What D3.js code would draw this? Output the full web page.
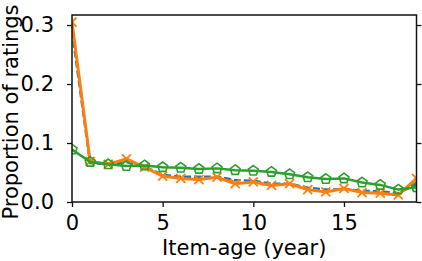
<!DOCTYPE html>
<html lang="en">
<head>
    <meta charset="UTF-8">
    <title>Proportion of ratings by item age</title>
    <script src="https://d3js.org/d3.v7.min.js"></script>
    <style>
        body { margin: 0; background: #fff; }
        text { font-family: "DejaVu Sans", sans-serif; }
    </style>
</head>
<body>
    <svg width="422" height="261"></svg>

    <script>
        // Data
        const ages = d3.range(20);
        const blueVals = [0.290, 0.066, 0.064, 0.068, 0.060, 0.046, 0.043, 0.043, 0.043, 0.037,
                          0.036, 0.031, 0.031, 0.024, 0.021, 0.022, 0.019, 0.018, 0.015, 0.030];
        const orangeVals = [0.305, 0.069, 0.064, 0.073, 0.059, 0.044, 0.040, 0.038, 0.042, 0.031,
                            0.034, 0.028, 0.031, 0.021, 0.017, 0.023, 0.016, 0.015, 0.012, 0.040];
        const greenVals = [0.089, 0.068, 0.064, 0.061, 0.062, 0.059, 0.058, 0.056, 0.057, 0.054,
                           0.053, 0.051, 0.047, 0.042, 0.039, 0.040, 0.033, 0.029, 0.021, 0.025];
        const xTicks = [0, 5, 10, 15];
        const yTicks = [0.0, 0.1, 0.2, 0.3];

        const width = 422, height = 261;
        const margin = {top: 15, right: 5.5, bottom: 59, left: 72};
        const plotWidth = width - margin.left - margin.right;
        const plotHeight = height - margin.top - margin.bottom;
        const fontSize = 21;

        const svg = d3.select("svg");
        const g = svg.append("g")
            .attr("transform", `translate(${margin.left},${margin.top})`);

        const xScale = d3.scaleLinear().domain([0, 19]).range([0, plotWidth]);
        const yScale = d3.scaleLinear().domain([0, 0.317]).range([plotHeight, 0]);

        g.append("clipPath").attr("id", "plot-clip")
            .append("rect").attr("width", plotWidth).attr("height", plotHeight);

        const line = d3.line()
            .x((d, i) => xScale(ages[i]))
            .y(d => yScale(d));

        const plot = g.append("g").attr("clip-path", "url(#plot-clip)");

        // blue dashed series underneath
        plot.append("path")
            .datum(blueVals)
            .attr("d", line)
            .attr("fill", "none")
            .attr("stroke", "#1f77b4")
            .attr("stroke-width", 2.5)
            .attr("stroke-dasharray", "7,3");

        // orange series with x markers
        plot.append("path")
            .datum(orangeVals)
            .attr("d", line)
            .attr("fill", "none")
            .attr("stroke", "#ff7f0e")
            .attr("stroke-width", 3)
            .attr("stroke-linejoin", "round");

        const xr = 4.5;
        plot.selectAll(".mark-x")
            .data(orangeVals)
            .join("path")
            .attr("class", "mark-x")
            .attr("transform", (d, i) => `translate(${xScale(ages[i])},${yScale(d)})`)
            .attr("d", `M${-xr},${-xr}L${xr},${xr}M${-xr},${xr}L${xr},${-xr}`)
            .attr("fill", "none")
            .attr("stroke", "#ff7f0e")
            .attr("stroke-width", 1.8);

        // green series with open pentagons
        plot.append("path")
            .datum(greenVals)
            .attr("d", line)
            .attr("fill", "none")
            .attr("stroke", "#2ca02c")
            .attr("stroke-width", 2.5)
            .attr("stroke-linejoin", "round");

        const pr = 5.2;
        const pentagon = d3.range(5).map(k => {
            const a = -Math.PI / 2 + k * 2 * Math.PI / 5;
            return [pr * Math.cos(a), pr * Math.sin(a)];
        });
        plot.selectAll(".mark-p")
            .data(greenVals)
            .join("path")
            .attr("class", "mark-p")
            .attr("transform", (d, i) => `translate(${xScale(ages[i])},${yScale(d)})`)
            .attr("d", d3.line()(pentagon) + "Z")
            .attr("fill", "none")
            .attr("stroke", "#2ca02c")
            .attr("stroke-width", 1.6);

        // axes
        const xAxis = g.append("g")
            .attr("transform", `translate(0,${plotHeight})`)
            .call(d3.axisBottom(xScale).tickValues(xTicks).tickSize(5).tickPadding(8));

        const yAxis = g.append("g")
            .call(d3.axisLeft(yScale).tickValues(yTicks).tickSize(5).tickPadding(13)
                .tickFormat(d3.format(".1f")));

        const yRight = g.append("g")
            .attr("transform", `translate(${plotWidth},0)`)
            .call(d3.axisRight(yScale).tickValues(yTicks).tickSize(5).tickFormat(""));

        [xAxis, yAxis, yRight].forEach(ax => {
            ax.select(".domain").remove();
            ax.selectAll("line").attr("stroke", "#111").attr("stroke-width", 1.3);
            ax.selectAll("text").attr("font-size", fontSize).attr("fill", "#000")
                .attr("font-family", "DejaVu Sans, sans-serif");
        });

        // frame
        g.append("rect")
            .attr("width", plotWidth)
            .attr("height", plotHeight)
            .attr("fill", "none")
            .attr("stroke", "#111")
            .attr("stroke-width", 1.5);

        // axis titles
        svg.append("text")
            .attr("x", margin.left + plotWidth / 2)
            .attr("y", 255)
            .attr("text-anchor", "middle")
            .attr("font-size", fontSize)
            .text("Item-age (year)");

        svg.append("text")
            .attr("transform", `translate(17.5,112) rotate(-90)`)
            .attr("text-anchor", "middle")
            .attr("font-size", fontSize)
            .text("Proportion of ratings");
    </script>
</body>
</html>
